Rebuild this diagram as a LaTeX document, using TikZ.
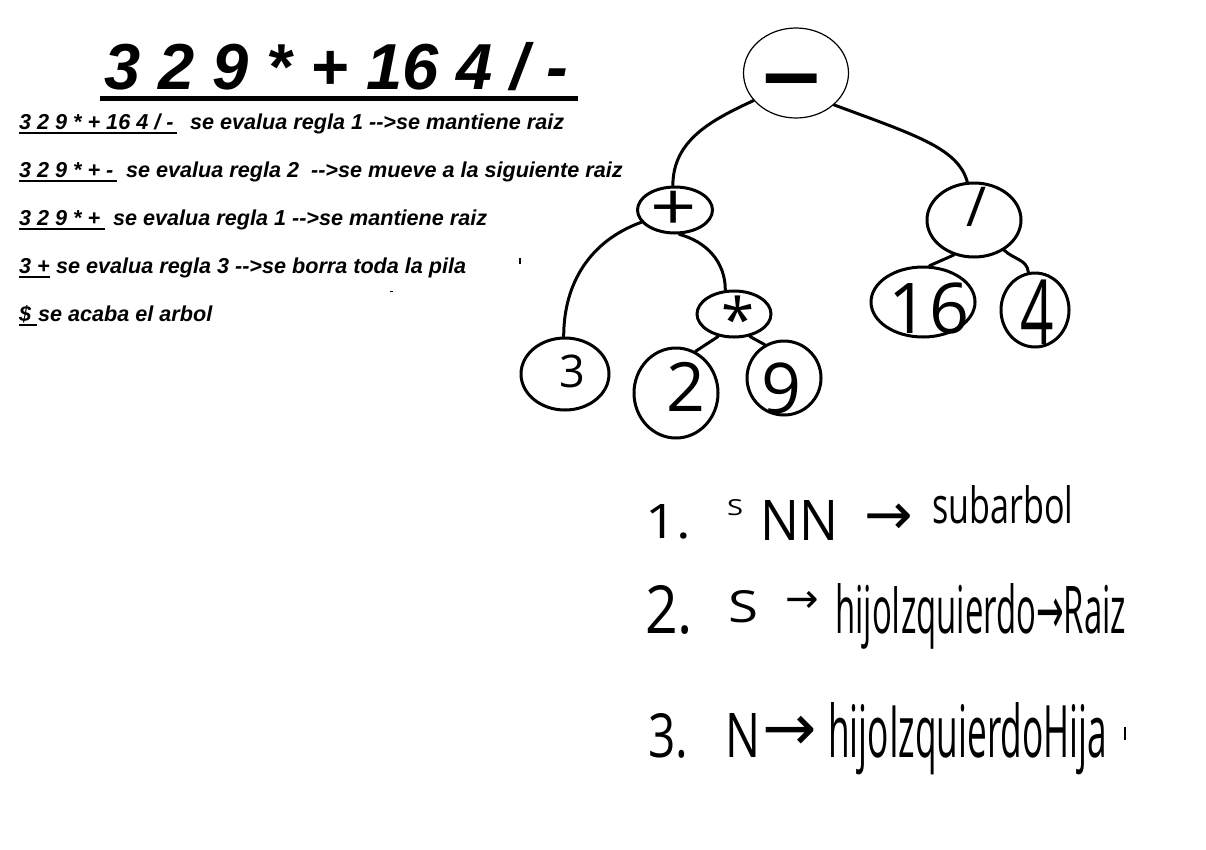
\documentclass[tikz,border=0pt]{standalone}
\usepackage{fontspec}
\usepackage{graphicx}
\newfontfamily\arial{Liberation Sans}
\newfontfamily\hand{Open Sans}
\newfontfamily\sym{DejaVu Sans}
\usetikzlibrary{shapes.geometric}
\newcommand\fsz[1]{\fontsize{#1}{#1}\selectfont}
\newcommand\ctrglyph[3]{\makebox[0pt]{\kern#1\smash{\raisebox{\dimexpr-0.5\height-#2\relax}{#3}}}}
\begin{document}
\begin{tikzpicture}[x=1pt,y=-1pt,
  tnode/.style={ellipse,draw,line width=3pt,inner sep=0pt,font=\hand},
  edge/.style={line width=3pt,line cap=round},
  body/.style={anchor=base west,inner sep=0pt,font=\fsz{21.6}\arial\bfseries\itshape},
  hw/.style={anchor=base west,inner sep=0pt,font=\hand},
  glyph/.style={inner sep=0pt},
  uline/.style={line width=2pt},
  straymark/.style={line width=1.5pt}]
\useasboundingbox[fill=white] (0,0) rectangle (1206,849);

% title
\node[anchor=base west,inner sep=0pt,font=\fsz{65}\arial\bfseries\itshape] (title) at (104,89) {3 2 9 * + 16 4 / -};
\draw[line width=5pt] (100,98) -- (578,98);

% evaluation lines
\node[body] (l1a) at (19,129) {3 2 9 * + 16 4 / -};
\node[body] (l1b) at (190,129) {se evalua regla 1 -->se mantiene raiz};
\node[body] (l2a) at (19,177) {3 2 9 * + -};
\node[body] (l2b) at (126,177) {se evalua regla 2\ \ -->se mueve a la siguiente raiz};
\node[body] (l3a) at (19,225) {3 2 9 * +};
\node[body] (l3b) at (113,225) {se evalua regla 1 -->se mantiene raiz};
\node[body] (l4a) at (19,273) {3 +};
\node[body] (l4b) at (56,273) {se evalua regla 3 -->se borra toda la pila};
\node[body] (l5a) at (19,321) {\$};
\node[body] (l5b) at (38,321) {se acaba el arbol};
\draw[uline] ([yshift=-3.5pt]l1a.base west) -- ++(158,0);
\draw[uline] ([yshift=-3.5pt]l2a.base west) -- ++(98,0);
\draw[uline] ([yshift=-3.5pt]l3a.base west) -- ++(86,0);
\draw[uline] ([yshift=-3.5pt]l4a.base west) -- ++(31,0);
\draw[uline] ([yshift=-3.5pt]l5a.base west) -- ++(18,0);

% stray marks
\draw[straymark] (520,258) -- (520,264);
\draw[straymark] (390,291.5) -- (393,291.5);

% tree
\node[tnode,line width=1.2pt,minimum width=105pt,minimum height=90pt] (root) at (796,73)
  {\ctrglyph{-8pt}{14pt}{\scalebox{5}[2]{\fsz{40}\arial\bfseries -}}};
\node[tnode,minimum width=75pt,minimum height=46pt] (plus) at (675,210)
  {\ctrglyph{-2pt}{1pt}{\scalebox{1.35}[1.1]{\fsz{60}+}}};
\node[tnode,minimum width=94pt,minimum height=74pt] (slash) at (974,220)
  {\ctrglyph{6pt}{-13pt}{\fsz{55}/}};
\node[tnode,minimum width=74pt,minimum height=46pt] (star) at (734,314)
  {\ctrglyph{8pt}{5pt}{\fsz{60}*}};
\node[tnode,minimum width=88pt,minimum height=72pt] (n3) at (565,374)
  {\ctrglyph{14pt}{-3pt}{\fsz{45}3}};
\node[tnode,minimum width=84pt,minimum height=90pt] (n2) at (676,393)
  {\ctrglyph{20pt}{-6pt}{\fsz{68}2}};
\node[tnode,minimum width=74pt,minimum height=74pt] (n9) at (784,378)
  {\ctrglyph{-6pt}{10pt}{\fsz{70}9}};
\node[tnode,minimum width=104pt,minimum height=70pt] (n16) at (923,302)
  {\ctrglyph{12pt}{6pt}{\fsz{70}16}};
\node[tnode,minimum width=68pt,minimum height=74pt] (n4) at (1035,310)
  {\ctrglyph{4pt}{2pt}{\scalebox{0.65}[1]{\fsz{90}4}}};

\draw[edge] (root.213) to[out=205,in=90] (plus.95);
\draw[edge] (root.-40) .. controls (915,135) and (958,148) .. (slash.100);
\draw[edge] (plus.200) to[out=200,in=90] (n3.92);
\draw[edge] (plus.-80) to[out=-15,in=90] (star.110);
\draw[edge] (star.235) -- (n2.65);
\draw[edge] (star.-55) -- (n9.120);
\draw[edge] (slash.240) -- (n16.80);
\draw[edge] (slash.-45) to[out=-45,in=95] (n4.100);

% rules (handwritten)
\node[hw] (r1n) at (645,538) {\resizebox{46pt}{34pt}{1.}};
\node[hw] (r1s) at (727,515) {\resizebox{16pt}{16pt}{S}};
\node[hw] (r1nn) at (760,540) {\resizebox{78pt}{40pt}{NN}};
\node[glyph] (r1arr) at (889,519) {\ctrglyph{0pt}{0pt}{\sym\fsz{58}→}};
\node[hw] (r1w) at (932,523) {\resizebox{141pt}{38pt}{subarbol}};

\node[hw] (r2n) at (645,633) {\resizebox{48pt}{48pt}{2.}};
\node[hw] (r2s) at (728,622) {\resizebox{30pt}{32pt}{S}};
\node[glyph] (r2arr) at (802,602) {\ctrglyph{0pt}{0pt}{\sym\fsz{40}→}};
\node[hw] (r2w) at (835,633) {\resizebox{291pt}{50pt}{hijoIzquierdo{\sym →}Raiz}};

\node[hw] (r3n) at (648,757) {\resizebox{40pt}{44pt}{3.}};
\node[hw] (r3s) at (725,757) {\resizebox{35pt}{44pt}{N}};
\node[glyph] (r3arr) at (790,733) {\ctrglyph{0pt}{0pt}{\sym\fsz{65}→}};
\node[hw] (r3w) at (828,757) {\resizebox{279pt}{55pt}{hijoIzquierdoHija}};
\draw[line width=2pt] (1125,727) -- (1125,740);
\end{tikzpicture}
\end{document}
